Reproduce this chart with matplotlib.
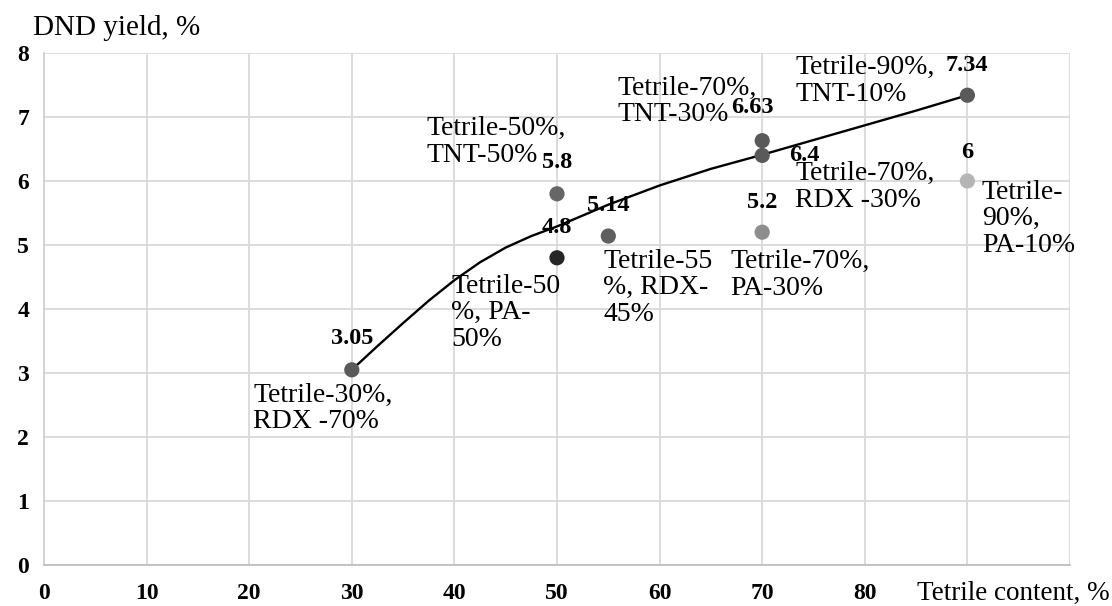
import numpy as np
import matplotlib.pyplot as plt

# points
tetrile = [30, 50, 50, 55, 70, 70, 70, 90, 90]
dnd_yield = [3.05, 5.8, 4.8, 5.14, 6.63, 6.4, 5.2, 7.34, 6.0]
value_labels = ['3.05', '5.8', '4.8', '5.14', '6.63', '6.4', '5.2', '7.34', '6']
point_colors = ['#5a5a5a', '#666666', '#262626', '#5f5f5f', '#5a5a5a',
                '#5a5a5a', '#8e8e8e', '#595959', '#b5b5b5']
# offsets of the bold value labels (pixels)
label_offsets = [(0, 31), (0, 31), (0, 30), (0, 31), (-10, 33),
                 (42, 0), (0, 30), (0, 30), (0, 29)]

# composition captions: (x, y of block centre, text)
captions_x = [20.4, 37.3, 55.9, 73.2, 73.2, 91.4, 39.7, 54.5, 66.9]
captions_y = [2.45, 6.61, 7.24, 7.56, 5.91, 5.41, 3.94, 4.33, 4.53]
captions = ['Tetrile-30%,\nRDX -70%', 'Tetrile-50%,\nTNT-50%',
            'Tetrile-70%,\nTNT-30%', 'Tetrile-90%,\nTNT-10%',
            'Tetrile-70%,\nRDX -30%', 'Tetrile-\n90%,\nPA-10%',
            'Tetrile-50\n%, PA-\n50%', 'Tetrile-55\n%, RDX-\n45%',
            'Tetrile-70%,\nPA-30%']

# trend curve
trend_x = [30, 32.5, 35, 37.5, 40, 42.5, 45, 47.5, 50, 55, 60, 65, 70, 75, 80, 85, 90]
trend_y = [3.05, 3.42, 3.78, 4.13, 4.45, 4.73, 4.96, 5.14, 5.29, 5.63, 5.93,
           6.19, 6.41, 6.64, 6.87, 7.10, 7.34]

x_ticks = list(range(0, 101, 10))
x_ticklabels = ['0', '10', '20', '30', '40', '50', '60', '70', '80', '', '']
y_ticks = list(range(0, 9))

serif = 'Liberation Serif'

fig = plt.figure(figsize=(11.12, 6.06), dpi=100)
ax = fig.add_axes([44 / 1112, 41 / 606, 1026 / 1112, 512 / 606])

ax.plot(trend_x, trend_y, color='black', lw=1.7, zorder=3)
ax.scatter(tetrile, dnd_yield, s=120, c=point_colors, zorder=4, linewidths=0)

for x, y, lab, off in zip(tetrile, dnd_yield, value_labels, label_offsets):
    ax.annotate(lab, (x, y), xytext=off, textcoords='offset pixels',
                ha='center', va='center', fontsize=17.5, fontweight='bold',
                family=serif, zorder=5)

for x, y, txt in zip(captions_x, captions_y, captions):
    ax.text(x, y, txt, ha='left', va='center', fontsize=20, family=serif,
            linespacing=1.08, zorder=5)

ax.set_xlim(0, 100)
ax.set_ylim(0, 8)
ax.set_xticks(x_ticks)
ax.set_xticklabels(x_ticklabels)
ax.set_yticks(y_ticks)
ax.tick_params(length=0, labelsize=17)
ax.tick_params(axis='x', pad=13)
ax.tick_params(axis='y', pad=15)
for lab in ax.get_xticklabels() + ax.get_yticklabels():
    lab.set_fontfamily(serif)
    lab.set_fontweight('bold')
for lab in ax.get_yticklabels():
    lab.set_horizontalalignment('center')

ax.grid(True, color='#d9d9d9', lw=1.3)
ax.set_axisbelow(True)
for side in ['top', 'right']:
    ax.spines[side].set_visible(False)
ax.spines['left'].set_color('#d0d0d0')
ax.spines['bottom'].set_color('#bfbfbf')
ax.spines['left'].set_linewidth(1.3)
ax.spines['bottom'].set_linewidth(1.3)

fig.text(33 / 1112, 1 - 28 / 606, 'DND yield, %', fontsize=21, family=serif,
         ha='left', va='center')
fig.text(1110 / 1112, 1 - 593 / 606, 'Tetrile content, %', fontsize=19.5,
         family=serif, ha='right', va='center')

fig.savefig('out.png', dpi=100)
